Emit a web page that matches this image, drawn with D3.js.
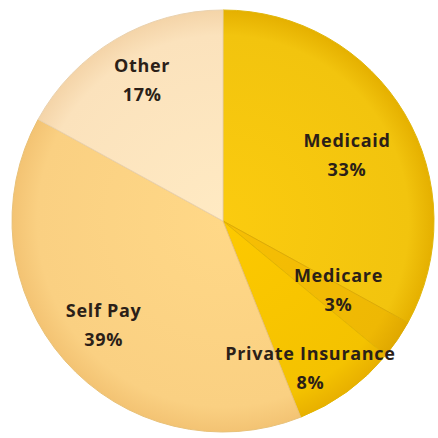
<!DOCTYPE html>
<html>
<head>
<meta charset="utf-8">
<script src="https://cdn.jsdelivr.net/npm/d3@7"></script>
<style>
html,body{margin:0;padding:0;background:#fff;}
svg{display:block;}
</style>
</head>
<body>
<svg id="chart" width="438" height="438"></svg>
<script>
// ---- data ----
const categories = ["Medicaid", "Medicare", "Private Insurance", "Self Pay", "Other"];
const values = [33, 3, 8, 39, 17];
const labels = ["33%", "3%", "8%", "39%", "17%"];

// ---- styling / layout config ----
const colors = ["#F2C40E", "#EEB804", "#F4C200", "#FAD082", "#FBE2BC"];
const rimColors = ["#E5B000", "#E0A800", "#E8B000", "#F3C373", "#F4D4A8"];
const labelRadius = [144, 131, 165, 154, 169];
const labelAngleShift = [0, -6, 4, 2.2, 2]; // degrees

const cx = 223, cy = 221, R = 211;

const svg = d3.select("#chart");
const defs = svg.append("defs");
colors.forEach((c, i) => {
  const g = defs.append("radialGradient")
    .attr("id", "grad" + i)
    .attr("gradientUnits", "userSpaceOnUse")
    .attr("cx", 0).attr("cy", 0).attr("r", R);
  g.append("stop").attr("offset", "0%").attr("stop-color", d3.color(c).brighter(0.1).formatHex());
  g.append("stop").attr("offset", "88%").attr("stop-color", c);
  g.append("stop").attr("offset", "100%").attr("stop-color", rimColors[i]);
});

const pie = d3.pie().sort(null).value(d => d.value);
const data = categories.map((c, i) => ({ cat: c, value: values[i], label: labels[i], idx: i }));
const arcs = pie(data);
const arc = d3.arc().innerRadius(0).outerRadius(R);

const g = svg.append("g").attr("transform", `translate(${cx},${cy})`);

g.selectAll("path.slice")
  .data(arcs)
  .enter().append("path")
  .attr("class", "slice")
  .attr("d", arc)
  .attr("fill", d => `url(#grad${d.data.idx})`)
  .attr("stroke", d => d3.color(colors[d.data.idx]).darker(0.2).formatHex())
  .attr("stroke-width", 1);

const lbl = g.selectAll("g.lbl")
  .data(arcs)
  .enter().append("g")
  .attr("class", "lbl")
  .attr("transform", d => {
    const i = d.data.idx;
    const shift = labelAngleShift[i] * Math.PI / 180;
    const a = (d.startAngle + d.endAngle) / 2 + shift;
    const la = d3.arc().innerRadius(labelRadius[i]).outerRadius(labelRadius[i]);
    const c = la.centroid({ startAngle: a, endAngle: a });
    return `translate(${c[0]},${c[1]})`;
  });

const fontStyle = sel => sel
  .attr("text-anchor", "middle")
  .style("font-family", "'Open Sans', sans-serif")
  .style("font-weight", "bold")
  .style("font-size", "18px")
  .style("letter-spacing", "0.7px")
  .attr("fill", "#2b1f18");

lbl.append("text").call(fontStyle)
  .attr("y", -1)
  .text(d => d.data.cat);

lbl.append("text").call(fontStyle)
  .attr("y", 28)
  .text(d => d.data.label);
</script>
</body>
</html>
